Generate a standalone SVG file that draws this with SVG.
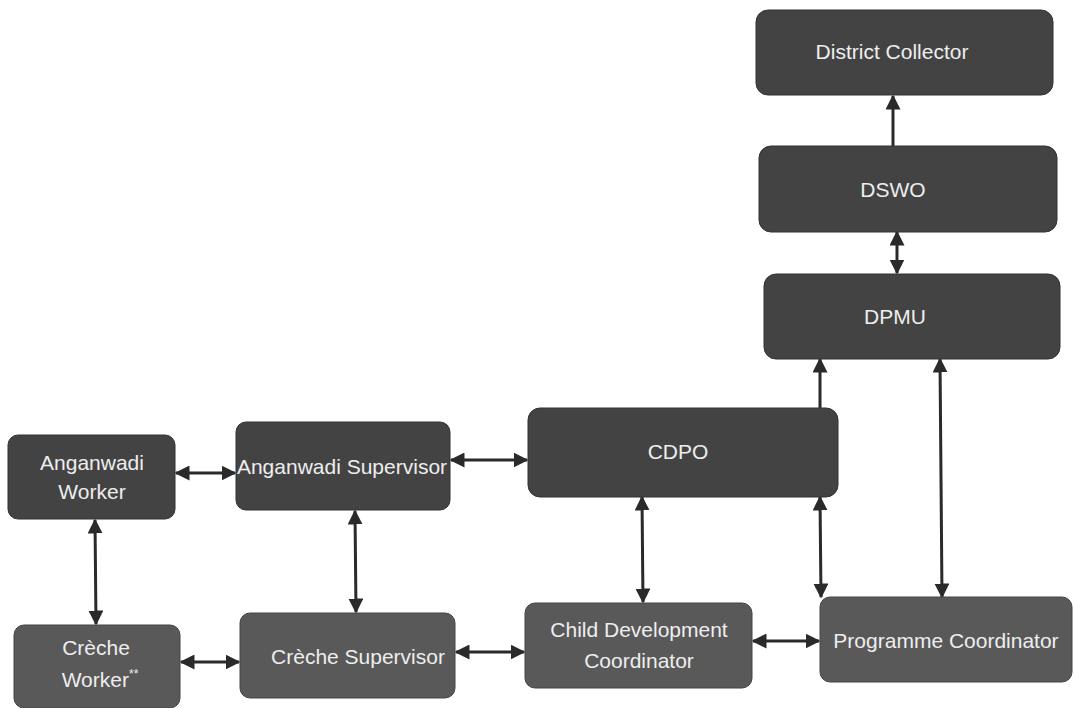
<svg xmlns="http://www.w3.org/2000/svg" width="1074" height="708" viewBox="0 0 1074 708">
<defs>
<marker id="ah" viewBox="0 0 10 10" refX="9" refY="5" markerWidth="5" markerHeight="5" orient="auto-start-reverse" markerUnits="strokeWidth">
<path d="M0,0 L10,5 L0,10 z" fill="#2a2a2a"/>
</marker>
<style>
.dk{fill:#434343;stroke:#333;stroke-width:1}
.lt{fill:#595959;stroke:#444;stroke-width:1}
.t{font-family:"Liberation Sans",Arial,sans-serif;font-size:21px;fill:#eeeeee;text-anchor:middle}
.c{stroke:#2a2a2a;stroke-width:3;fill:none}
.cb{marker-start:url(#ah);marker-end:url(#ah)}
.ce{marker-end:url(#ah)}
</style>
</defs>
<rect width="1074" height="708" fill="#ffffff"/>
<g id="connectors">
<line class="c ce" x1="893" y1="146" x2="893" y2="96"/>
<line class="c cb" x1="897" y1="232" x2="897" y2="273"/>
<line class="c ce" x1="820" y1="408" x2="820" y2="359"/>
<line class="c cb" x1="940" y1="359" x2="942" y2="597"/>
<line class="c cb" x1="820" y1="497" x2="821" y2="597"/>
<line class="c cb" x1="642" y1="497" x2="643" y2="602"/>
<line class="c cb" x1="451" y1="460" x2="527" y2="460"/>
<line class="c cb" x1="176" y1="473" x2="235" y2="473"/>
<line class="c cb" x1="95" y1="520" x2="96" y2="624"/>
<line class="c cb" x1="355" y1="511" x2="356" y2="612"/>
<line class="c cb" x1="181" y1="662" x2="239" y2="662"/>
<line class="c cb" x1="456" y1="652" x2="524" y2="652"/>
<line class="c cb" x1="753" y1="641" x2="819" y2="641"/>
</g>
<g id="district-collector"><rect class="dk" x="756" y="10" width="297" height="85" rx="12"/><text class="t" x="892" y="59">District Collector</text></g>
<g id="dswo"><rect class="dk" x="759" y="146" width="298" height="86" rx="12"/><text class="t" x="893" y="197">DSWO</text></g>
<g id="dpmu"><rect class="dk" x="764" y="274" width="296" height="85" rx="12"/><text class="t" x="895" y="324">DPMU</text></g>
<g id="cdpo"><rect class="dk" x="528" y="408" width="310" height="89" rx="12"/><text class="t" x="678" y="459">CDPO</text></g>
<g id="anganwadi-worker"><rect class="dk" x="8" y="435" width="167" height="84" rx="10"/><text class="t" x="92" y="470">Anganwadi</text><text class="t" x="92" y="499">Worker</text></g>
<g id="anganwadi-supervisor"><rect class="dk" x="236" y="422" width="214" height="88" rx="10"/><text class="t" x="342" y="474">Anganwadi Supervisor</text></g>
<g id="creche-worker"><rect class="lt" x="14" y="625" width="166" height="83" rx="10"/><text class="t" x="96" y="655">Crèche</text><text class="t" x="100" y="687">Worker<tspan font-size="12" dy="-9">**</tspan></text></g>
<g id="creche-supervisor"><rect class="lt" x="240" y="613" width="215" height="85" rx="10"/><text class="t" x="358" y="664">Crèche Supervisor</text></g>
<g id="child-development-coordinator"><rect class="lt" x="525" y="603" width="227" height="85" rx="10"/><text class="t" x="639" y="637">Child Development</text><text class="t" x="639" y="668">Coordinator</text></g>
<g id="programme-coordinator"><rect class="lt" x="820" y="597" width="252" height="85" rx="10"/><text class="t" x="946" y="648">Programme Coordinator</text></g>
</svg>
